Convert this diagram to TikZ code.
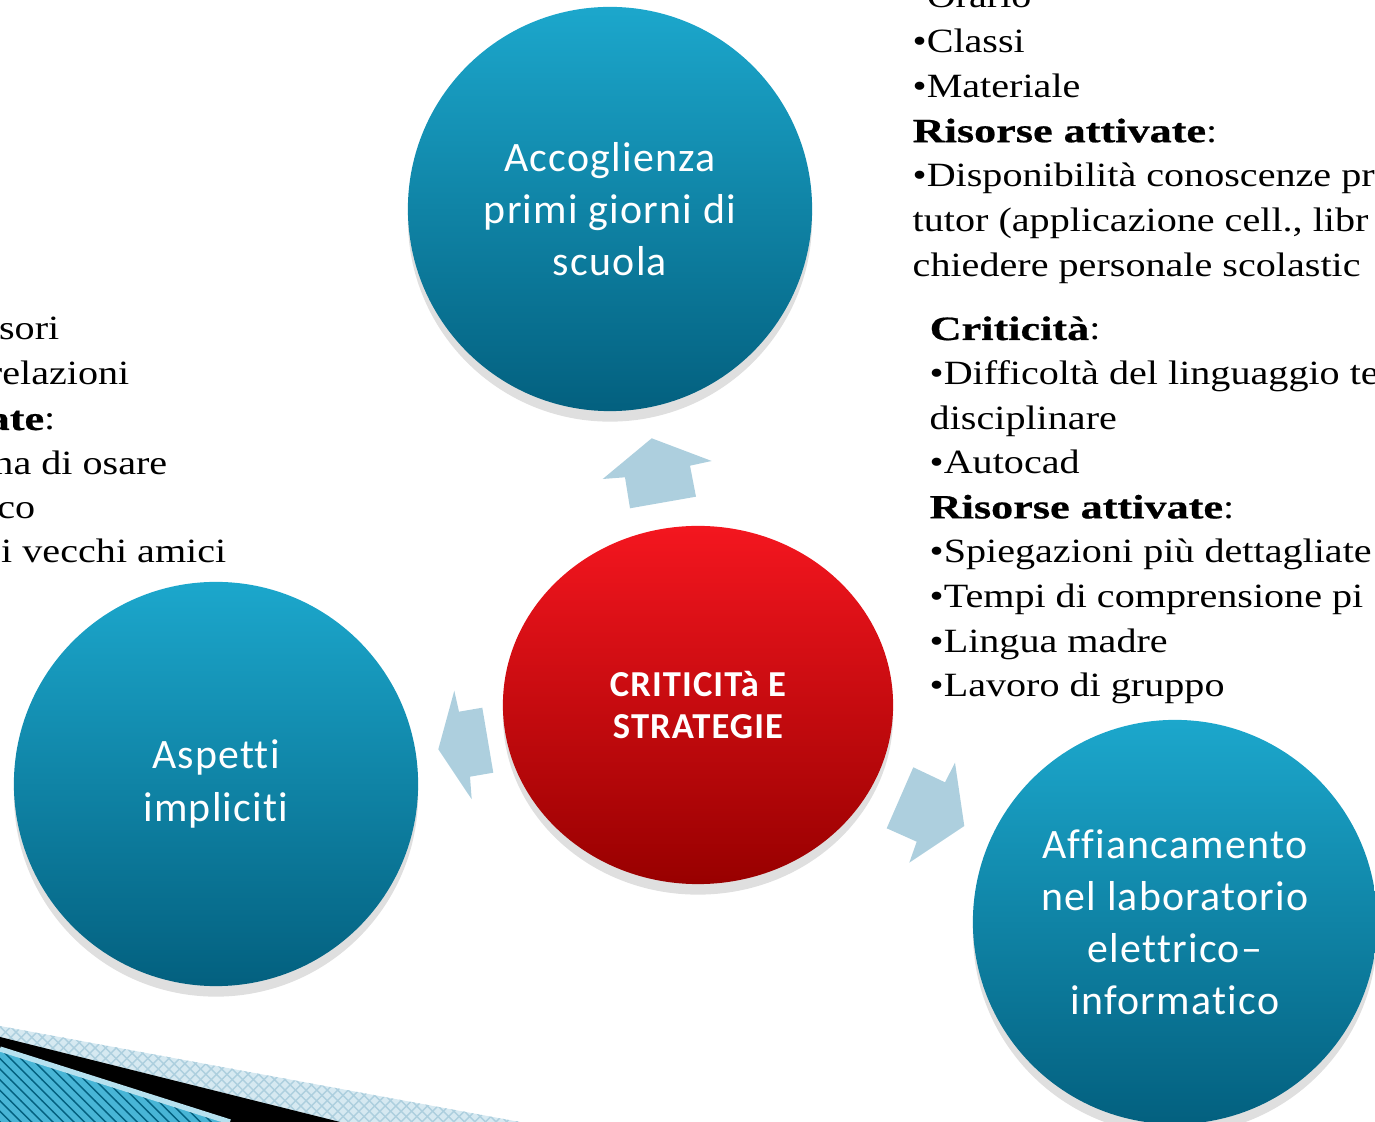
\documentclass[tikz,border=0pt]{standalone}
\usepackage{fontspec}
\setmainfont{Liberation Serif}[FakeStretch=1.18,BoldFeatures={FakeStretch=1.3,FakeBold=0.6}]
\newfontfamily\circfont{Carlito}[LetterSpace=3,Ligatures={NoCommon}]
\usetikzlibrary{shapes.geometric,shadows,patterns}
\definecolor{bluTop}{HTML}{1CA7CC}
\definecolor{bluBot}{HTML}{03607F}
\definecolor{rossoTop}{HTML}{F4161F}
\definecolor{rossoBot}{HTML}{980000}
\definecolor{frecciaBlu}{HTML}{ADCFDE}
\definecolor{bandaChiara}{HTML}{D6E9F1}
\definecolor{azzurro}{HTML}{48B5D6}
\tikzset{cerchio/.style={circle,minimum size=4.04cm,inner sep=0pt,top color=bluTop,bottom color=bluBot,text=white,align=center,
           font=\circfont\fontsize{11.9}{14.8}\selectfont,drop shadow={shadow xshift=0pt,shadow yshift=-3pt,opacity=.25}},
         centro/.style={ellipse,minimum width=3.9cm,minimum height=3.58cm,inner sep=0pt,top color=rossoTop,bottom color=rossoBot,text=white,align=center,
           font=\circfont\bfseries\fontsize{10.4}{12.2}\selectfont,drop shadow={shadow xshift=0pt,shadow yshift=-3pt,opacity=.25}},
         freccia/.style={fill=frecciaBlu},
         testo/.style={inner sep=0pt,font=\fontsize{9.67}{12.75}\selectfont}}

\begin{document}
\begin{tikzpicture}[x=0.01cm,y=-0.01cm]
    \useasboundingbox (0,0) rectangle (1375,1122);

    % striscia in basso a sinistra
    \fill[bandaChiara] (0,1026) -- (520,1122) -- (0,1122) -- cycle;
    \fill[pattern=crosshatch,pattern color=frecciaBlu] (0,1026) -- (520,1122) -- (0,1122) -- cycle;
    \fill[black] (0,1037) -- (340,1122) -- (0,1122) -- cycle;
    \fill[azzurro] (0,1049) -- (230,1122) -- (0,1122) -- cycle;
    \fill[pattern=north west lines,pattern color=bluBot] (0,1049) -- (230,1122) -- (0,1122) -- cycle;
    \draw[azzurro!40,line width=1.5pt] (0,1049) -- (230,1122);

    % cerchi
    \node (acc)  [cerchio] at (610,209)  {Accoglienza\\primi giorni di\\scuola};
    \node (asp)  [cerchio] at (216,784)  {Aspetti\\impliciti};
    \node (aff)  [cerchio] at (1175,922) {Affiancamento\\nel laboratorio\\elettrico–\\informatico};
    \node (crit) [centro]  at (698,705)  {CRITICITà E\\STRATEGIE};

    % frecce
    \fill[freccia] (651.7,438.3) -- (711.7,461) -- (690,465.7) -- (696,496.7) -- (630,508.3) -- (625,477.3) -- (602.7,479) -- cycle;
    \fill[freccia] (454.3,690.7) -- (459,711.7) -- (482.3,707.7) -- (493.3,772.7) -- (470,776.7) -- (471.7,799.3) -- (438.3,749.3) -- cycle;
    \fill[freccia] (913.3,767.3) -- (945,782.3) -- (955,762.7) -- (964.3,826) -- (909.3,862.7) -- (916.7,841.7) -- (886.7,828.3) -- cycle;

    % testi
    \foreach \riga [count=\i from 0] in {•Orario,•Classi,•Materiale,{\textbf{Risorse attivate}:},•Disponibilità conoscenze pr,
        {tutor (applicazione cell., libr},chiedere personale scolastic}
        \node (acc\i) [testo,anchor=base west] at (912,7.8+44.8*\i) {\riga};
    \foreach \riga [count=\i from 0] in {{\textbf{Criticità}:},•Difficoltà del linguaggio te,disciplinare,•Autocad,{\textbf{Risorse attivate}:},
        •Spiegazioni più dettagliate,•Tempi di comprensione pi,•Lingua madre,•Lavoro di gruppo}
        \node (aff\i) [testo,anchor=base west] at (929,340+44.6*\i) {\riga};
    \foreach \riga/\xr/\yb [count=\i] in {sori/60/340,relazioni/130/385,{\textbf{ate}:}/56/430,na di osare/168/475,co/36/519,i vecchi amici/227/563}
        \node (asp\i) [testo,anchor=base east] at (\xr,\yb) {\riga};
\end{tikzpicture}
\end{document}
